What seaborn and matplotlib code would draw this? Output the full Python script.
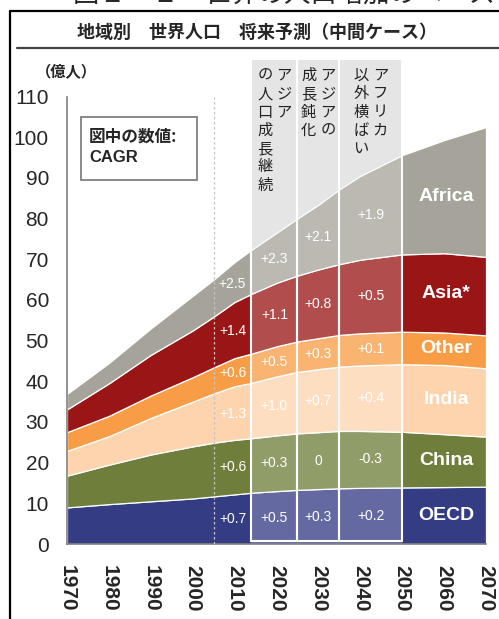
import matplotlib.pyplot as plt
import numpy as np
import seaborn as sns
from matplotlib.lines import Line2D
from matplotlib.patches import Rectangle

sns.set_style('white')
plt.rcParams['font.family'] = ['Liberation Sans', 'Noto Sans CJK JP']
JP = ['Noto Sans CJK JP', 'Liberation Sans']

# population by region, 100 million people
years = [1970, 1980, 1990, 2000, 2005, 2010, 2014, 2020, 2025, 2030, 2035, 2040, 2050, 2060, 2070]
oecd = [9.0, 9.8, 10.5, 11.2, 11.7, 12.2, 12.6, 13.0, 13.3, 13.5, 13.7, 13.8, 13.9, 14.0, 14.1]
china = [7.8, 9.7, 11.5, 12.8, 13.2, 13.4, 13.4, 13.7, 13.9, 14.0, 14.1, 14.0, 13.7, 13.0, 12.3]
india = [6.1, 7.0, 9.0, 11.0, 12.1, 13.2, 13.6, 14.5, 15.1, 15.5, 15.8, 16.1, 16.6, 17.0, 16.8]
other = [4.6, 5.0, 5.5, 6.0, 6.4, 6.9, 7.2, 7.4, 7.5, 7.6, 7.8, 7.9, 8.0, 8.0, 8.1]
asia = [5.6, 8.0, 10.0, 11.5, 12.5, 13.8, 14.7, 15.6, 16.2, 16.9, 17.4, 18.1, 19.0, 19.5, 19.3]
africa = [3.8, 5.0, 6.5, 8.5, 9.1, 9.8, 10.8, 12.3, 14.0, 15.9, 18.4, 20.6, 24.4, 27.8, 31.9]

regions = ['OECD', 'China', 'India', 'Other', 'Asia*', 'Africa']
colors = ['#343c84', '#6f7f3b', '#fdd4ae', '#f89d45', '#9a1616', '#a6a49a']

# CAGR per period, bottom layer first
cagr = [
    ['+0.7', '+0.6', '+1.3', '+0.6', '+1.4', '+2.5'],   # 1970-2014
    ['+0.5', '+0.3', '+1.0', '+0.5', '+1.1', '+2.3'],   # 2014-2025
    ['+0.3', '0', '+0.7', '+0.3', '+0.8', '+2.1'],      # 2025-2035
    ['+0.2', '-0.3', '+0.4', '+0.1', '+0.5', '+1.9'],   # 2035-2050
]
cagr_years = [2009.5, 2019.5, 2030, 2042.5]
name_year = 2060.5

bands = [(2014, 2025), (2025, 2035), (2035, 2050)]
band_notes = [('アジア', 'の人口成長継続'), ('アジアの', '成長鈍化'), ('アフリカ', '以外横ばい')]

W, H = 499, 619
fig = plt.figure(figsize=(W / 100, H / 100), dpi=100)
ax = fig.add_axes([67 / W, 1 - 544 / H, 419 / W, 484 / H])

layers = [oecd, china, india, other, asia, africa]

for a, b in bands:
    ax.axvspan(a, b, color='#dddddd', lw=0, zorder=0)

ax.stackplot(years, layers, colors=colors, edgecolor='white', linewidth=0.9, zorder=1)

for a, b in bands:
    ax.axvspan(a, b, color='white', alpha=0.24, lw=0, zorder=2)
    ax.add_patch(Rectangle((a, 0.7), b - a, 120, fill=False, edgecolor='white', lw=1.5, zorder=3))
ax.plot([2005, 2005], [0, 110], ls=(0, (2, 2)), color='#c4c4c4', lw=0.9, zorder=3)

# labels at the middle of each layer
tops = np.cumsum(np.array(layers), axis=0)
bottoms = tops - np.array(layers)
for vals, yr in zip(cagr, cagr_years):
    for i, txt in enumerate(vals):
        mid = (np.interp(yr, years, tops[i]) + np.interp(yr, years, bottoms[i])) / 2
        ax.text(yr, mid, txt, color='white', fontsize=10, ha='center', va='center', zorder=4)
for i, name in enumerate(regions):
    mid = (np.interp(name_year, years, tops[i]) + np.interp(name_year, years, bottoms[i])) / 2
    ax.text(name_year, mid, name, color='white', fontsize=14, weight='bold',
            ha='center', va='center', zorder=4)

# vertical notes in the shaded bands
for (a, b), (right, left) in zip(bands, band_notes):
    c = (a + b) / 2
    for dx, col in [(2.3, right), (-2.3, left)]:
        ax.text(c + dx, 117.3, '\n'.join(col), family=JP, fontsize=11, color='#222222',
                ha='center', va='top', linespacing=1.1, zorder=4)

ax.set_xlim(1970, 2070)
ax.set_ylim(0, 119)
ax.set_yticks(range(0, 111, 10))
ax.set_xticks(range(1970, 2071, 10))
ax.set_xticks(range(1975, 2070, 10), minor=True)
ax.tick_params(axis='both', which='both', direction='out', length=6, width=1, color='#808080')
ax.tick_params(axis='y', labelsize=15, pad=7)
ax.tick_params(axis='x', labelsize=15, pad=9)
for lab in ax.get_xticklabels():
    lab.set_rotation(-90)
    lab.set_fontweight('bold')
for side in ['top', 'right']:
    ax.spines[side].set_visible(False)
for side in ['left', 'bottom']:
    ax.spines[side].set_color('#808080')
    ax.spines[side].set_linewidth(1.2)
ax.spines['left'].set_bounds(0, 110)

# frame, headings and note box
fig.add_artist(Line2D([10 / W, 10 / W], [0, 1 - 11 / H], color='black', lw=1.6))
fig.add_artist(Line2D([10 / W, 1], [1 - 11 / H, 1 - 11 / H], color='black', lw=1.6))
fig.add_artist(Line2D([17 / W, 1], [1 - 48 / H, 1 - 48 / H], color='#444444', lw=1.6))
fig.text(73 / W, 1 - 8 / H, '図２－１　世界の人口増加のペース', family=JP, fontsize=19,
         va='bottom', ha='left')
fig.text(257 / W, 1 - 32 / H, '地域別　世界人口　将来予測（中間ケース）', family=JP,
         fontsize=13, weight='bold', ha='center', va='center')
fig.text(36 / W, 1 - 72 / H, '（億人）', family=JP, fontsize=11, weight='bold', va='center')
fig.add_artist(Rectangle((81 / W, 1 - 180 / H), 116 / W, 63 / H, transform=fig.transFigure,
                         fill=False, edgecolor='#808080', lw=1.3))
fig.text(89 / W, 1 - 137 / H, '図中の数値:', family=JP, fontsize=12, weight='bold', va='center')
fig.text(89 / W, 1 - 158 / H, 'CAGR', fontsize=12, weight='bold', va='center')

fig.savefig('out.png', dpi=100)
